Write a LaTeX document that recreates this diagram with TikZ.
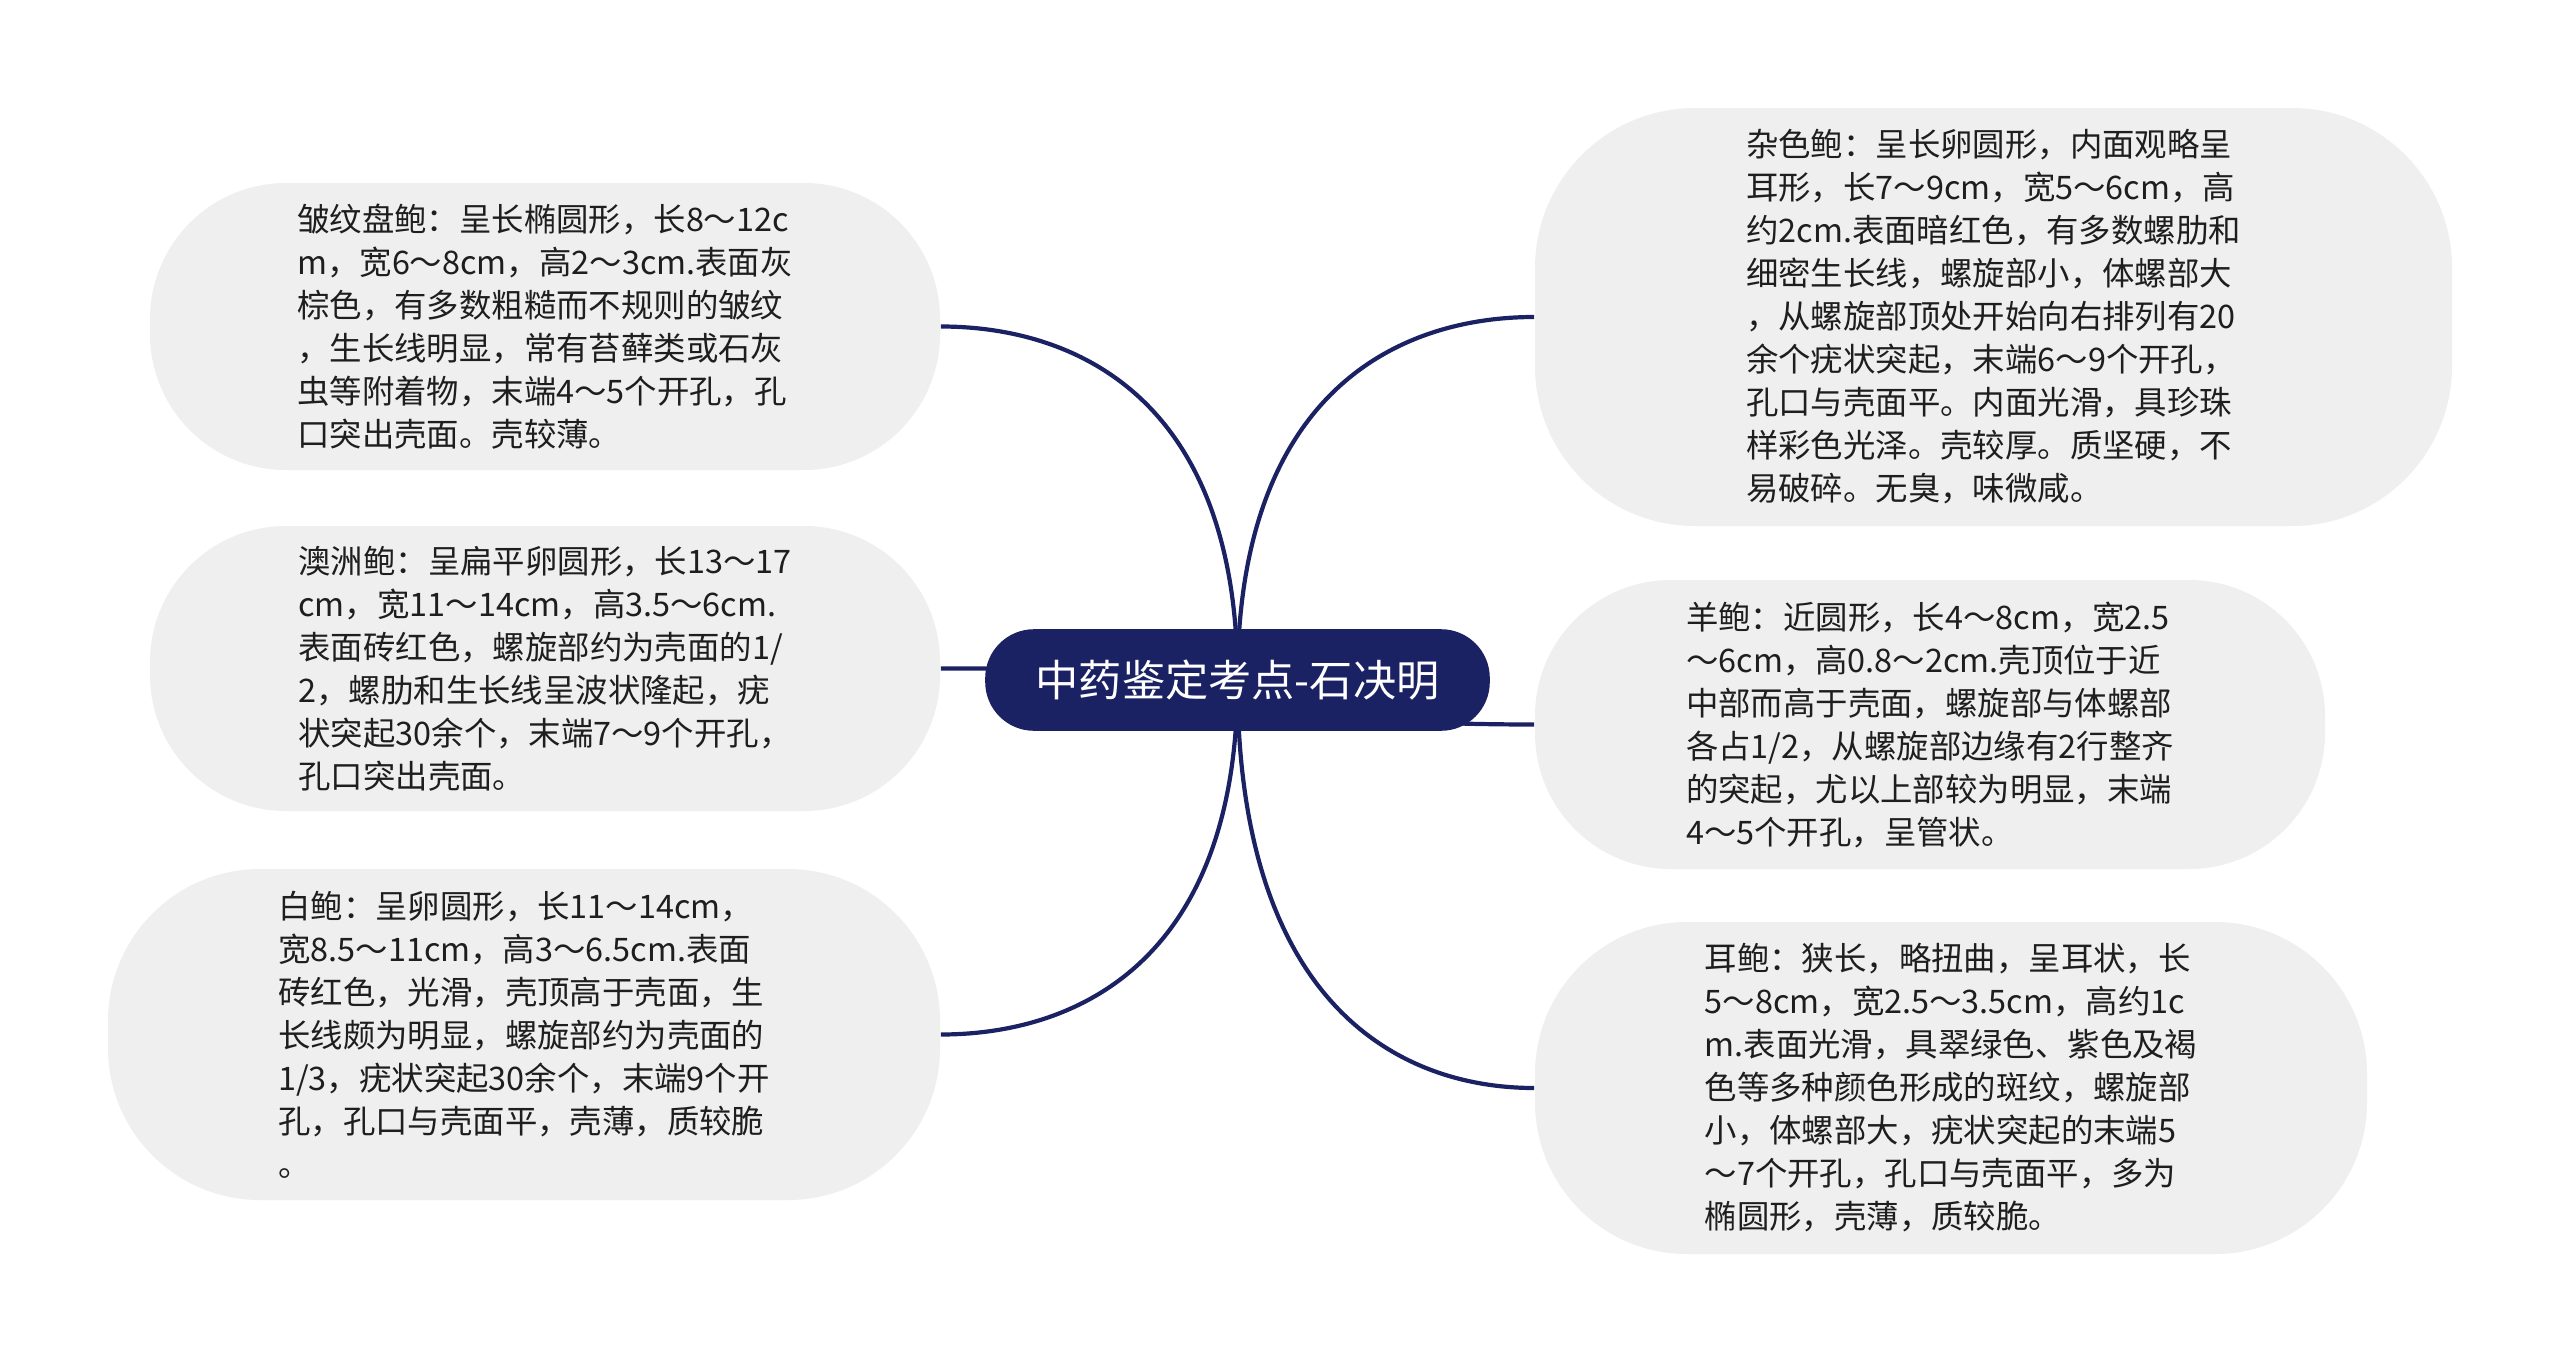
\documentclass[tikz,border=0pt]{standalone}
\usepackage{fontspec}
\setmainfont{Noto Sans CJK SC}
\usetikzlibrary{calc,backgrounds}
\definecolor{navy}{HTML}{1B2263}
\definecolor{boxgray}{HTML}{EFEFEF}
\definecolor{textc}{HTML}{1E1E1E}
\tikzset{
  leaf/.style={fill=boxgray, draw=none, align=left, text=textc, inner sep=0pt,
    font=\fontsize{8.1pt}{10.75pt}\selectfont},
  rootnode/.style={fill=navy, draw=navy, text=white, rounded corners=12pt,
    minimum width=125.75pt, minimum height=25pt, inner sep=0pt,
    font=\fontsize{10.8pt}{12pt}\selectfont},
  link/.style={draw=navy, line width=1.05pt}
}
\newcommand{\linkup}[2]{%
  \draw[link] (#1.center) .. controls ($(#1.center)!0.8!(#1.center |- #2)$) and ($(#2)!0.45!(#2 -| #1.center)$) .. (#2);}
\begin{document}
\begin{tikzpicture}[x=0.25pt,y=-0.25pt]
\useasboundingbox (0,0) rectangle (2560,1360);

\node[leaf, rounded corners=34pt, minimum width=197.5pt, minimum height=71.75pt] (b1) at (545,326.5) {%
皱纹盘鲍：呈长椭圆形，长8～12c\\
m，宽6～8cm，高2～3cm.表面灰\\
棕色，有多数粗糙而不规则的皱纹\\
，生长线明显，常有苔藓类或石灰\\
虫等附着物，末端4～5个开孔，孔\\
口突出壳面。壳较薄。};

\node[leaf, rounded corners=34pt, minimum width=197.5pt, minimum height=71.25pt] (b2) at (545,668.5) {%
澳洲鲍：呈扁平卵圆形，长13～17\\
cm，宽11～14cm，高3.5～6cm.\\
表面砖红色，螺旋部约为壳面的1/\\
2，螺肋和生长线呈波状隆起，疣\\
状突起30余个，末端7～9个开孔，\\
孔口突出壳面。};

\node[leaf, rounded corners=38pt, minimum width=208pt, minimum height=82.75pt] (b3) at (524,1034.5) {%
白鲍：呈卵圆形，长11～14cm，\\
宽8.5～11cm，高3～6.5cm.表面\\
砖红色，光滑，壳顶高于壳面，生\\
长线颇为明显，螺旋部约为壳面的\\
1/3，疣状突起30余个，末端9个开\\
孔，孔口与壳面平，壳薄，质较脆\\
。};

\node[leaf, rounded corners=40pt, minimum width=229.25pt, minimum height=104.5pt] (b4) at (1993.5,317) {%
杂色鲍：呈长卵圆形，内面观略呈\\
耳形，长7～9cm，宽5～6cm，高\\
约2cm.表面暗红色，有多数螺肋和\\
细密生长线，螺旋部小，体螺部大\\
，从螺旋部顶处开始向右排列有20\\
余个疣状突起，末端6～9个开孔，\\
孔口与壳面平。内面光滑，具珍珠\\
样彩色光泽。壳较厚。质坚硬，不\\
易破碎。无臭，味微咸。};

\node[leaf, rounded corners=34pt, minimum width=197.5pt, minimum height=72.25pt] (b5) at (1930,724.5) {%
羊鲍：近圆形，长4～8cm，宽2.5\\
～6cm，高0.8～2cm.壳顶位于近\\
中部而高于壳面，螺旋部与体螺部\\
各占1/2，从螺旋部边缘有2行整齐\\
的突起，尤以上部较为明显，末端\\
4～5个开孔，呈管状。};

\node[leaf, rounded corners=38pt, minimum width=208pt, minimum height=83pt] (b6) at (1951,1088) {%
耳鲍：狭长，略扭曲，呈耳状，长\\
5～8cm，宽2.5～3.5cm，高约1c\\
m.表面光滑，具翠绿色、紫色及褐\\
色等多种颜色形成的斑纹，螺旋部\\
小，体螺部大，疣状突起的末端5\\
～7个开孔，孔口与壳面平，多为\\
椭圆形，壳薄，质较脆。};

\node[rootnode] (root) at (1237.5,680) {中药鉴定考点-石决明};

\begin{pgfonlayer}{background}
\fill[white] (0,0) rectangle (2560,1360);
\linkup{root}{b1.east}
\linkup{root}{b2.east}
\linkup{root}{b3.east}
\linkup{root}{b4.west}
\linkup{root}{b5.west}
\linkup{root}{b6.west}
\end{pgfonlayer}
\end{tikzpicture}
\end{document}
